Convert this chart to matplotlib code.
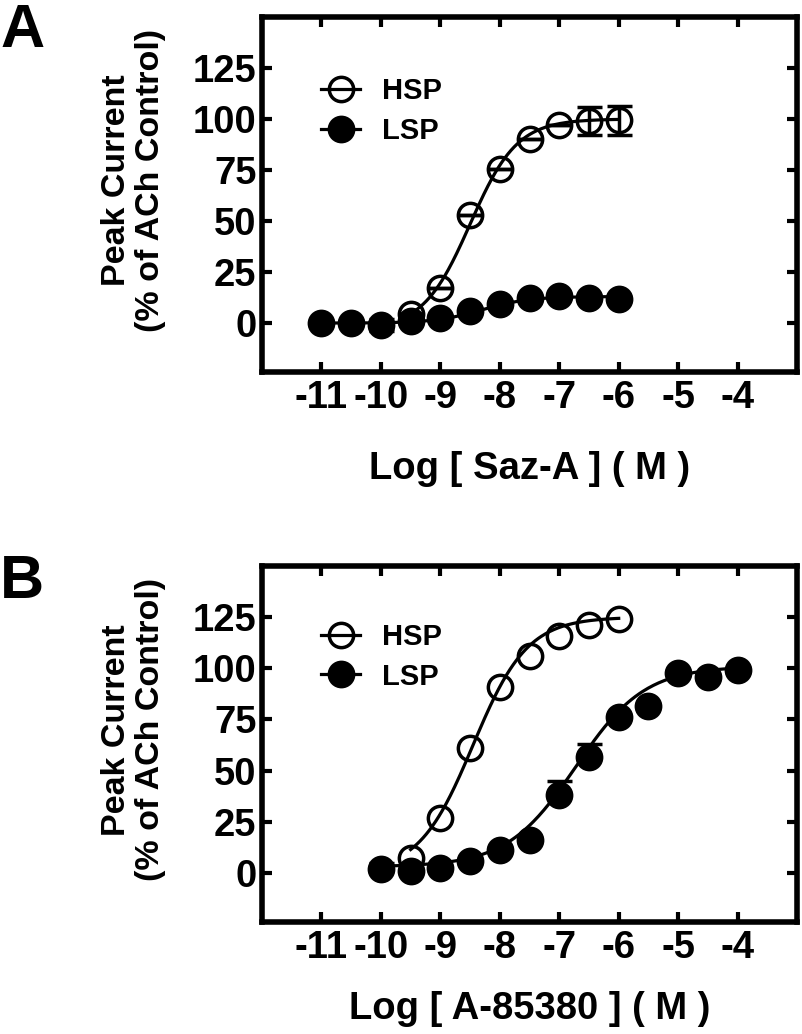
import numpy as np
import matplotlib.pyplot as plt

plt.rcParams['font.family'] = ['Liberation Sans', 'DejaVu Sans']
plt.rcParams['font.weight'] = 'bold'

# panel A - Saz-A
a_hsp_x = [-9.5, -9, -8.5, -8, -7.5, -7, -6.5, -6]
a_hsp_y = [4.4, 17.4, 52.8, 75.6, 90.3, 97.3, 99.0, 99.4]
a_hsp_err = [0, 0, 0, 0, 0, 0, 7, 7]
a_lsp_x = [-11, -10.5, -10, -9.5, -9, -8.5, -8, -7.5, -7, -6.5, -6]
a_lsp_y = [0, 0, -1, 1, 2.4, 5.7, 9.3, 12.5, 13.4, 12.5, 11.7]
a_lsp_err = [0, 0, 3, 0, 0, 0, 0, 0, 0, 0, 0]

# panel B - A-85380
b_hsp_x = [-9.5, -9, -8.5, -8, -7.5, -7, -6.5, -6]
b_hsp_y = [7.4, 27, 61, 90.7, 106, 116, 121, 124]
b_lsp_x = [-10, -9.5, -9, -8.5, -8, -7.5, -7, -6.5, -6, -5.5, -5, -4.5, -4]
b_lsp_y = [2, 0.8, 2.5, 5.7, 11, 16.3, 38, 56.7, 76, 81.4, 97.5, 95.6, 99.3]
b_lsp_err = [3, 0, 0, 0, 0, 0, 7, 6.4, 0, 0, 0, 0, 0]

# sigmoid fit parameters: bottom, top, logEC50, hill
a_hsp_fit = (-3, 100, -8.5, 1.1)
a_lsp_fit = (0, 13, -8.3, 1.1)
b_hsp_fit = (0, 125, -8.45, 0.95)
b_lsp_fit = (3, 101, -6.72, 0.75)

xticks = [-11, -10, -9, -8, -7, -6, -5, -4]
xticklabels = ['-11', '-10', '-9', '-8', '-7', '-6', '-5', '-4']
yticks = [0, 25, 50, 75, 100, 125]


def hill(p, x0, x1):
    xs = np.linspace(x0, x1, 200)
    b, t, ec, h = p
    return xs, b + (t - b) / (1 + 10 ** ((ec - xs) * h))


def style(ax, xlabel, lpad):
    ax.set_xlim(-12, -3)
    ax.set_ylim(-24, 150)
    ax.set_xticks(xticks)
    ax.set_xticklabels(xticklabels)
    ax.set_yticks(yticks)
    ax.set_yticklabels([str(v) for v in yticks])
    for s in ax.spines.values():
        s.set_linewidth(4)
    ax.tick_params(direction='in', length=7, width=3, top=True, right=True,
                   labelsize=27.5)
    ax.tick_params(axis='x', pad=6)
    ax.tick_params(axis='y', pad=4)
    ax.set_xlabel(xlabel, fontsize=27.5, fontweight='bold', labelpad=lpad)
    ax.set_ylabel('Peak Current\n(% of ACh Control)', fontsize=24.5,
                  fontweight='bold', linespacing=1.1)
    ax.yaxis.set_label_coords(-0.18, 0.54)


ms = 17.5
mew = 2.5
lw = 2.3

fig = plt.figure(figsize=(8.03, 10.34), dpi=100)
axA = fig.add_axes([0.3263, 0.6402, 0.6663, 0.3433])
axB = fig.add_axes([0.3263, 0.1083, 0.6663, 0.3443])

# A
xs, ys = hill(a_hsp_fit, -9.5, -6)
axA.plot(xs, ys, color='black', lw=lw)
xs, ys = hill(a_lsp_fit, -11, -6)
axA.plot(xs, ys, color='black', lw=lw)
axA.errorbar(a_lsp_x, a_lsp_y, yerr=a_lsp_err, fmt='o', color='black', ms=ms,
             mew=mew, mfc='black', capsize=9, elinewidth=2.5, capthick=3)
axA.errorbar(a_hsp_x, a_hsp_y, yerr=a_hsp_err, fmt='o', color='black', ms=ms,
             mew=mew, mfc='none', capsize=9, elinewidth=2.5, capthick=3)
style(axA, 'Log [ Saz-A ] ( M )', 25)

# B
xs, ys = hill(b_hsp_fit, -9.5, -6)
axB.plot(xs, ys, color='black', lw=lw)
xs, ys = hill(b_lsp_fit, -10, -4)
axB.plot(xs, ys, color='black', lw=lw)
axB.errorbar(b_lsp_x, b_lsp_y, yerr=[np.zeros(len(b_lsp_err)), b_lsp_err],
             fmt='o', color='black', ms=ms, mew=mew, mfc='black', capsize=9,
             elinewidth=2.5, capthick=3)
axB.plot(b_hsp_x, b_hsp_y, 'o', color='black', ms=ms, mew=mew, mfc='none')
style(axB, 'Log [ A-85380 ] ( M )', 18)

# legends
for ax in (axA, axB):
    h1, = ax.plot([], [], 'o-', color='black', ms=ms, mew=mew, mfc='none', lw=lw)
    h2, = ax.plot([], [], 'o-', color='black', ms=ms, mew=mew, mfc='black', lw=lw)
    ax.legend([h1, h2], ['HSP', 'LSP'], loc='upper left',
              bbox_to_anchor=(0.11, 0.83 if ax is axA else 0.84),
              frameon=False, fontsize=21, handlelength=1.35,
              handletextpad=0.75, labelspacing=0.4, borderpad=0,
              borderaxespad=0)

fig.text(0.0, 0.997, 'A', fontsize=44, fontweight='bold', va='top', ha='left')
fig.text(0.0, 0.464, 'B', fontsize=44, fontweight='bold', va='top', ha='left')

fig.savefig('out.png', dpi=100)
